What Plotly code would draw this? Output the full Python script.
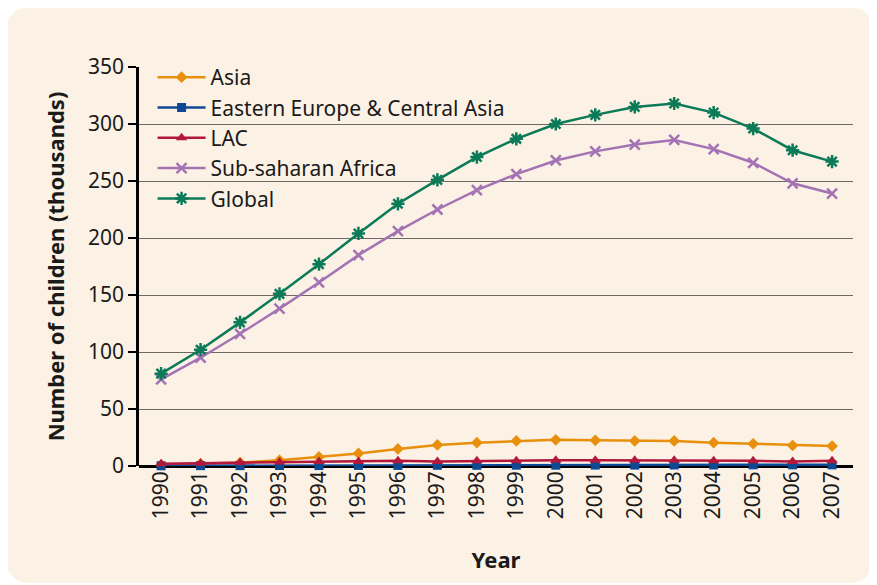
import plotly.graph_objects as go

years = list(range(1990, 2008))
asia = [1, 2, 3, 5, 8, 11, 15, 18.5, 20.5, 22, 23, 22.5, 22, 22, 20.5, 19.5, 18, 17.5]
eeca = [0.2, 0.3, 0.3, 0.4, 0.4, 0.5, 0.5, 0.6, 0.6, 0.7, 0.7, 0.8, 0.8, 0.9, 0.9, 1.0, 1.0, 1.0]
lac = [2, 2.5, 3, 3.5, 4, 4, 4.5, 4, 4.5, 4.5, 5, 5, 5, 5, 4.5, 4.5, 4, 4.5]
ssa = [76, 95, 116, 138, 161, 185, 206, 225, 242, 256, 268, 276, 282, 286, 278, 266, 248, 239]
glob = [81, 102, 126, 151, 177, 204, 230, 251, 271, 287, 300, 308, 315, 318, 310, 296, 277, 267]

y_ticks = [0, 50, 100, 150, 200, 250, 300, 350]

OFF = 8  # default page body margin
W, H = 877 - OFF, 585 - OFF
L, R, T, B = 139 - OFF, 877 - 853, 67 - OFF, 585 - 466
pw, ph = W - L - R, H - T - B

def px(x):
    return (x - OFF - L) / pw

def py(y):
    return (H - B - (y - OFF)) / ph

# rounded card (page pixel coordinates)
x0, x1, y0, y1, r = 6, 873, 7, 583, 26
path = (
    f"M {px(x0 + r)},{py(y0)} L {px(x1 - r)},{py(y0)} "
    f"Q {px(x1)},{py(y0)} {px(x1)},{py(y0 + r)} "
    f"L {px(x1)},{py(y1 - r)} Q {px(x1)},{py(y1)} {px(x1 - r)},{py(y1)} "
    f"L {px(x0 + r)},{py(y1)} Q {px(x0)},{py(y1)} {px(x0)},{py(y1 - r)} "
    f"L {px(x0)},{py(y0 + r)} Q {px(x0)},{py(y0)} {px(x0 + r)},{py(y0)} Z"
)

font = "Noto Sans, Open Sans, sans-serif"

fig = go.Figure()

series = [
    ("Asia", asia, "#e8900c", dict(symbol="diamond", size=9)),
    ("Eastern Europe & Central Asia", eeca, "#0d4a93", dict(symbol="square", size=9)),
    ("LAC", lac, "#b3183c", dict(symbol="triangle-up", size=10)),
    ("Sub-saharan Africa", ssa, "#a373b3", dict(symbol="x-thin-open", size=10, line=dict(width=2.5, color="#a373b3"))),
    ("Global", glob, "#0b7a57", dict(symbol="asterisk-open", size=11, line=dict(width=2.5, color="#0b7a57"))),
]
for name, vals, col, mk in series:
    mk = dict(mk)
    mk["color"] = col
    fig.add_trace(go.Scatter(
        x=years, y=vals, name=name, mode="lines+markers",
        line=dict(color=col, width=2.5), marker=mk, cliponaxis=False,
    ))

fig.update_layout(
    width=W, height=H,
    margin=dict(l=L, r=R, t=T, b=B),
    paper_bgcolor="white",
    plot_bgcolor="rgba(0,0,0,0)",
    font=dict(family=font, size=21, color="#1a1a1a"),
    shapes=[dict(type="path", path=path, xref="paper", yref="paper",
                 fillcolor="#fcf1e5", line=dict(width=0), layer="below")],
    legend=dict(x=0.019, y=1.025, xanchor="left", yanchor="top",
                bgcolor="rgba(0,0,0,0)", font=dict(size=21),
                itemwidth=48, tracegroupgap=0),
    showlegend=True,
)
fig.update_xaxes(
    range=[1989.44, 2007.53], tickmode="array", tickvals=years,
    ticktext=[str(y) for y in years], tickangle=-90, showgrid=False,
    showline=False, zeroline=False, ticks="",
    title=dict(text="<b>Year</b>", font=dict(size=22), standoff=34),
    tickfont=dict(size=21),
)
fig.update_yaxes(
    range=[0, 350], tickvals=y_ticks, showgrid=True, gridcolor="#6e6862",
    gridwidth=1.3, showline=True, linecolor="black", linewidth=2.5,
    zeroline=True, zerolinecolor="black", zerolinewidth=2.5,
    ticks="outside", ticklen=8, tickwidth=2, tickcolor="black",
    title=dict(text="<b>Number of children (thousands)</b>", font=dict(size=22), standoff=18),
    tickfont=dict(size=21),
)

fig.write_html("out.html")
